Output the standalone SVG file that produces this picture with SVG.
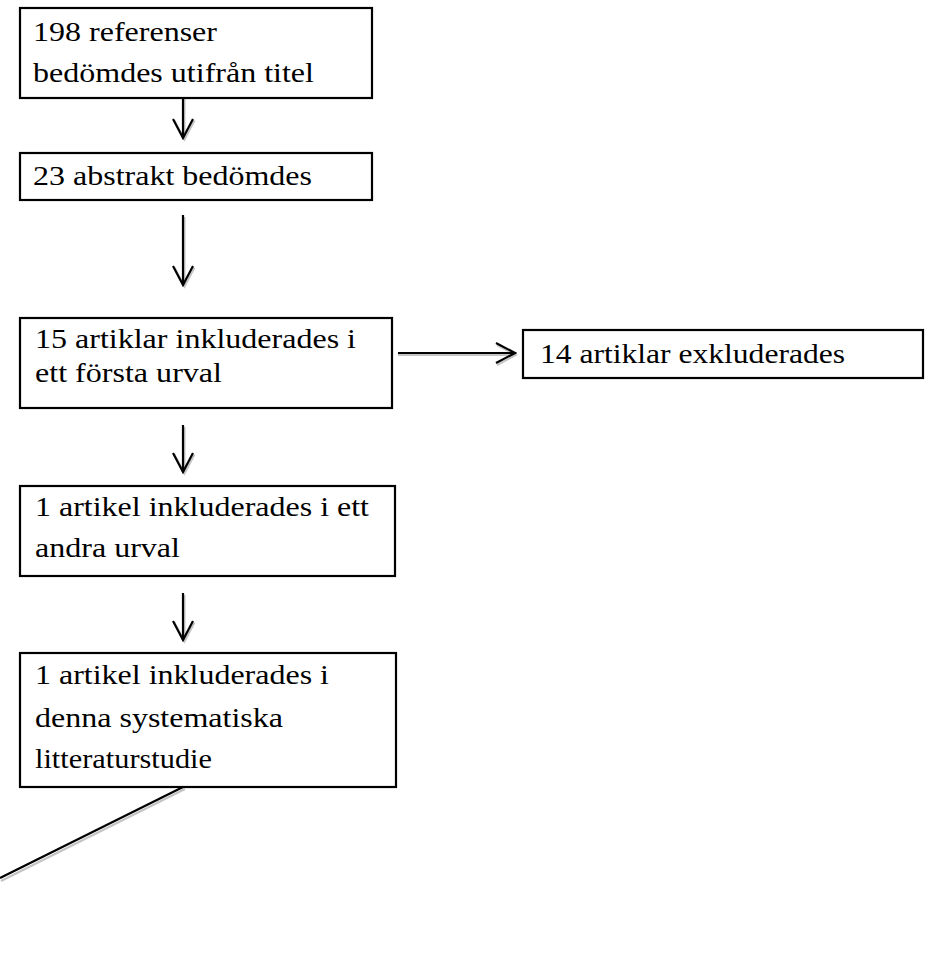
<svg xmlns="http://www.w3.org/2000/svg" width="930" height="966" viewBox="0 0 930 966">
<style>
.box{fill:#fff;stroke:#000;stroke-width:2.2}
.t{font-family:'Liberation Serif',Tinos,'Times New Roman',Times,serif;font-size:26.5px;fill:#000}
.ln{fill:none;stroke:#000;stroke-width:2.2}
.sh{fill:none;stroke:#c4c4c4;stroke-width:2}
</style>
<defs>
<marker id="ah" markerUnits="userSpaceOnUse" viewBox="0 0 22 24" markerWidth="22" markerHeight="24" refX="20" refY="12" orient="auto"><path d="M1,2 L20,12 L1,22" fill="none" stroke="#000" stroke-width="2.2"/></marker>
<marker id="ahs" markerUnits="userSpaceOnUse" viewBox="0 0 22 24" markerWidth="22" markerHeight="24" refX="20" refY="12" orient="auto"><path d="M1,2 L20,12 L1,22" fill="none" stroke="#c4c4c4" stroke-width="2"/></marker>
</defs>
<rect width="930" height="966" fill="#fff"/>
<g id="connectors">
<line class="sh" x1="184.5" y1="92" x2="184.5" y2="139.5" marker-end="url(#ahs)"/>
<line class="ln" x1="183" y1="90" x2="183" y2="138" marker-end="url(#ah)"/>
<line class="sh" x1="184.5" y1="217" x2="184.5" y2="286.5" marker-end="url(#ahs)"/>
<line class="ln" x1="183" y1="215" x2="183" y2="285" marker-end="url(#ah)"/>
<line class="sh" x1="398" y1="355" x2="516" y2="355" marker-end="url(#ahs)"/>
<line class="ln" x1="398" y1="353" x2="515" y2="353" marker-end="url(#ah)"/>
<line class="sh" x1="184.5" y1="427" x2="184.5" y2="473.5" marker-end="url(#ahs)"/>
<line class="ln" x1="183" y1="425" x2="183" y2="472" marker-end="url(#ah)"/>
<line class="sh" x1="184.5" y1="595" x2="184.5" y2="641.5" marker-end="url(#ahs)"/>
<line class="ln" x1="183" y1="593" x2="183" y2="640" marker-end="url(#ah)"/>
<line class="sh" x1="185" y1="789" x2="1" y2="881" stroke-width="2.5"/>
<line class="ln" x1="183" y1="787" x2="0" y2="878" stroke-width="2.5"/>
</g>
<g id="n1">
<rect class="box" x="20" y="8" width="352" height="90"/>
<text class="t" font-family="Liberation Serif" x="33" y="41" textLength="184" lengthAdjust="spacingAndGlyphs">198 referenser</text>
<text class="t" font-family="Liberation Serif" x="33" y="82" textLength="281" lengthAdjust="spacingAndGlyphs">bedömdes utifrån titel</text>
</g>
<g id="n2">
<rect class="box" x="20" y="153" width="352" height="47"/>
<text class="t" font-family="Liberation Serif" x="33" y="185" textLength="279" lengthAdjust="spacingAndGlyphs">23 abstrakt bedömdes</text>
</g>
<g id="n3">
<rect class="box" x="20" y="318" width="372" height="90"/>
<text class="t" font-family="Liberation Serif" x="35" y="348" textLength="321" lengthAdjust="spacingAndGlyphs">15 artiklar inkluderades i</text>
<text class="t" font-family="Liberation Serif" x="35" y="382" textLength="187" lengthAdjust="spacingAndGlyphs">ett första urval</text>
</g>
<g id="n4">
<rect class="box" x="523" y="330" width="400" height="48"/>
<text class="t" font-family="Liberation Serif" x="540" y="363" textLength="305" lengthAdjust="spacingAndGlyphs">14 artiklar exkluderades</text>
</g>
<g id="n5">
<rect class="box" x="20" y="486" width="375" height="90"/>
<text class="t" font-family="Liberation Serif" x="35" y="516" textLength="334" lengthAdjust="spacingAndGlyphs">1 artikel inkluderades i ett</text>
<text class="t" font-family="Liberation Serif" x="35" y="557" textLength="145" lengthAdjust="spacingAndGlyphs">andra urval</text>
</g>
<g id="n6">
<rect class="box" x="20" y="653" width="376" height="134"/>
<text class="t" font-family="Liberation Serif" x="35" y="684" textLength="294" lengthAdjust="spacingAndGlyphs">1 artikel inkluderades i</text>
<text class="t" font-family="Liberation Serif" x="35" y="727" textLength="248" lengthAdjust="spacingAndGlyphs">denna systematiska</text>
<text class="t" font-family="Liberation Serif" x="35" y="768" textLength="177" lengthAdjust="spacingAndGlyphs">litteraturstudie</text>
</g>
</svg>
